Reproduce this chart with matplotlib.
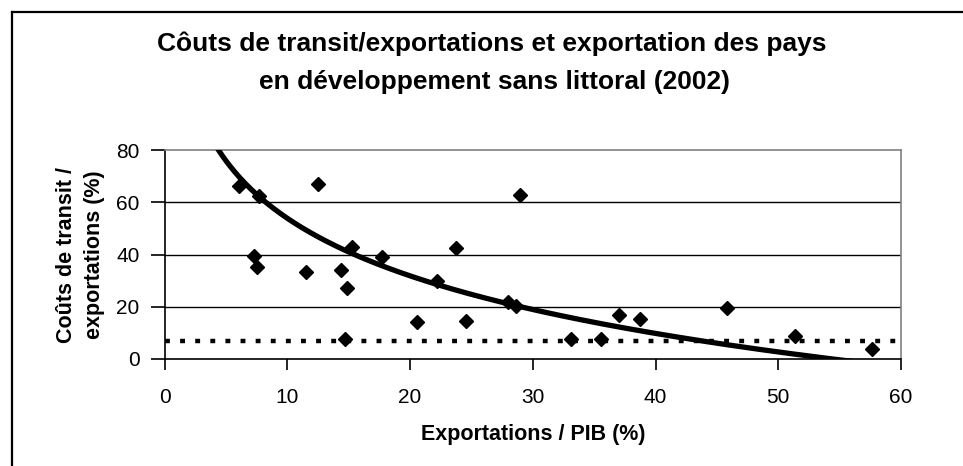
import numpy as np
import matplotlib
matplotlib.use("Agg")
import matplotlib.pyplot as plt
from matplotlib.lines import Line2D

plt.rcParams['font.family'] = ['Liberation Sans', 'DejaVu Sans']

# Data
exports_pct_gdp = [6.1, 7.7, 12.5, 7.3, 7.5, 11.5, 14.4, 14.85, 14.7, 15.3, 17.7,
                   20.55, 23.75, 24.6, 22.2, 28.0, 28.6, 29.0, 33.1, 35.6, 37.0,
                   38.75, 45.8, 51.4, 57.6]
transit_cost_pct = [66.3, 62.4, 66.9, 39.3, 35.3, 33.2, 34.0, 27.2, 7.8, 43.0, 39.0,
                    14.0, 42.3, 14.4, 29.7, 22.0, 20.1, 62.7, 7.8, 7.8, 16.9,
                    15.3, 19.5, 8.8, 3.7]
reference_level = 7.0
# logarithmic trend line y = trend_a - trend_b * ln(x)
trend_a = 127.1
trend_b = 31.8

title_lines = ["Côuts de transit/exportations et exportation des pays",
               "en développement sans littoral (2002)"]
xlabel = "Exportations / PIB (%)"
ylabel = "Coûts de transit /\nexportations (%)"
xticks = [0, 10, 20, 30, 40, 50, 60]
yticks = [0, 20, 40, 60, 80]

W, H = 963, 466
fig = plt.figure(figsize=(W / 100, H / 100), dpi=100)
ax = fig.add_axes([164.5 / W, 1 - 359 / H, (901 - 164.5) / W, (359 - 150) / H])

x = np.array(exports_pct_gdp)
y = np.array(transit_cost_pct)

xt = np.linspace(3, 60, 400)
ax.plot(xt, trend_a - trend_b * np.log(xt), color='black', lw=3.8, zorder=3,
        solid_capstyle='butt')

ax.axhline(reference_level, color='black', lw=3.2, linestyle=(0, (1.1, 2.3)),
           dash_capstyle='butt', zorder=2)

ax.plot(x, y, linestyle='none', marker='D', markersize=7.5, color='black', zorder=4)

ax.set_xlim(0, 60)
ax.set_ylim(0, 80)
ax.set_xticks(xticks)
ax.set_yticks(yticks)
for yv in yticks[1:-1]:
    ax.axhline(yv, color='black', lw=1.0, zorder=1)

for s in ['top', 'right']:
    ax.spines[s].set_color('#808080')
    ax.spines[s].set_linewidth(1.2)
for s in ['left', 'bottom']:
    ax.spines[s].set_color('black')
    ax.spines[s].set_linewidth(1.2)

ax.tick_params(axis='both', direction='out', length=8, width=1.2, labelsize=15,
               colors='black')
ax.tick_params(axis='y', length=10, pad=8)
ax.tick_params(axis='x', pad=13)

ax.set_xlabel(xlabel, fontsize=15.5, fontweight='bold', labelpad=12)
ax.set_ylabel(ylabel, fontsize=15.5, fontweight='bold', labelpad=8, linespacing=1.45)

fig.text(492 / W, 1 - 44 / H, title_lines[0], ha='center', va='center',
         fontsize=19, fontweight='bold')
fig.text(494 / W, 1 - 82 / H, title_lines[1], ha='center', va='center',
         fontsize=19, fontweight='bold')

# chart-area border (left and top visible)
fig.add_artist(Line2D([11.5 / W, 11.5 / W], [0, 1 - 11.5 / H], transform=fig.transFigure,
                      color='black', lw=1.6))
fig.add_artist(Line2D([11.5 / W, 1], [1 - 11.5 / H, 1 - 11.5 / H], transform=fig.transFigure,
                      color='black', lw=1.6))

fig.savefig('out.png', dpi=100)
